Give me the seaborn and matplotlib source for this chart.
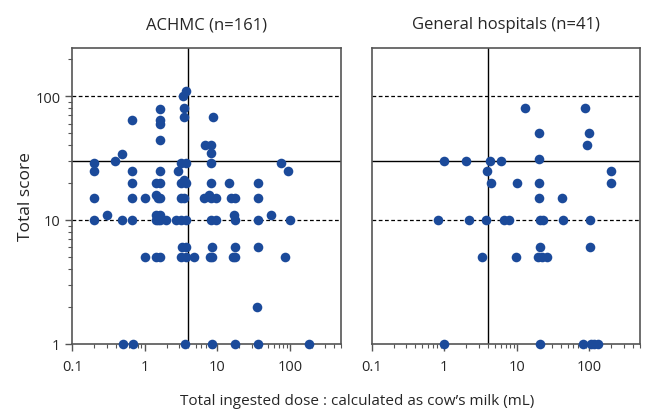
import matplotlib
matplotlib.use("Agg")
import matplotlib.pyplot as plt
import matplotlib.ticker as mticker
import seaborn as sns
import pandas as pd
import numpy as np

# ---- data ----
achmc_dose = [3.7, 3.4, 3.5, 1.6, 3.5, 8.6, 0.66, 1.6, 1.6, 1.6,
              6.8, 8.2, 8.2, 0.49, 0.39,
              0.2, 3.2, 3.65, 8.2, 75,
              0.2, 0.66, 1.64, 2.9, 93,
              0.66, 1.41, 1.64, 3.2, 3.5, 3.65, 8.2, 14.3, 36,
              0.2, 0.66, 1.0, 1.41, 1.5, 1.64, 3.2, 3.5, 6.6, 7.6, 8.2, 9.6, 15.4, 17.6, 36,
              0.3, 1.41, 1.64, 17.1, 55,
              0.2, 0.49, 0.66, 1.41, 1.5, 1.64, 1.98, 2.72, 3.2, 3.65, 8.2, 9.6, 17.6, 36, 100,
              3.3, 3.65, 8.4, 17.6, 36,
              1.0, 1.41, 1.64, 3.2, 3.65, 4.8, 8.0, 8.4, 16.3, 17.6, 85,
              35,
              0.5, 0.68, 3.6, 8.3, 17.3, 36, 184]
achmc_score = [110, 100, 80, 78, 68, 68, 64, 64, 59, 44,
               40, 40, 35, 34, 30,
               29, 29, 29, 29, 29,
               25, 25, 25, 25, 25,
               20, 20, 20, 20, 21, 20, 20, 20, 20,
               15, 15, 15, 16, 15, 15, 15, 15, 15, 16, 15, 15, 15, 15, 15,
               11, 11, 11, 11, 11,
               10, 10, 10, 10, 10, 10, 10, 10, 10, 10, 10, 10, 10, 10, 10,
               6, 6, 6, 6, 6,
               5, 5, 5, 5, 5, 5, 5, 5, 5, 5, 5,
               2,
               1, 1, 1, 1, 1, 1, 1]

general_dose = [13, 86, 20, 100, 91,
                1.0, 2.0, 4.3, 6.0, 20,
                3.9, 200,
                4.4, 10, 20, 200,
                20, 42,
                0.83, 2.2, 3.8, 6.6, 7.7, 21, 23, 43.6, 101,
                21, 103,
                3.3, 9.7, 19.8, 21.9, 25.7,
                1.0, 21, 81, 105, 117, 133]
general_score = [80, 80, 50, 50, 40,
                 30, 30, 30, 30, 31,
                 25, 25,
                 20, 20, 20, 20,
                 15, 15,
                 10, 10, 10, 10, 10, 10, 10, 10, 10,
                 6, 6,
                 5, 5, 5, 5, 5,
                 1, 1, 1, 1, 1, 1]

panel_titles = ["ACHMC (n=161)", "General hospitals (n=41)"]
x_ticks = [0.1, 1, 10, 100]
x_tick_labels = ["0.1", "1", "10", "100"]
y_ticks = [1, 10, 100]
y_tick_labels = ["1", "10", "100"]
dose_cut = 4
score_cut = 30
ref_lines = [10, 100]

# ---- styling ----
sns.set_style("white")
plt.rcParams["font.family"] = ["Open Sans", "DejaVu Sans"]
plt.rcParams["xtick.bottom"] = True
plt.rcParams["ytick.left"] = True

df = pd.concat([
    pd.DataFrame({"dose": achmc_dose, "score": achmc_score, "group": panel_titles[0]}),
    pd.DataFrame({"dose": general_dose, "score": general_score, "group": panel_titles[1]}),
])

fig, axes = plt.subplots(1, 2, figsize=(6.56, 4.14), dpi=100)
fig.subplots_adjust(left=0.11, right=0.976, bottom=0.167, top=0.882, wspace=0.115)

dot = "#1b4a9a"
frame = "#555555"
for i, (ax, title) in enumerate(zip(axes, panel_titles)):
    sub = df[df["group"] == title]
    sns.scatterplot(data=sub, x="dose", y="score", ax=ax, color=dot,
                    s=48, linewidth=0, zorder=3, legend=False, clip_on=False)
    ax.set_xscale("log")
    ax.set_yscale("log")
    ax.set_xlim(0.1, 500)
    ax.set_ylim(1, 245)
    for v in ref_lines:
        ax.axhline(v, color="black", lw=0.9, ls=(0, (3, 2)), zorder=1)
    ax.axhline(score_cut, color="black", lw=1.0, zorder=1)
    ax.axvline(dose_cut, color="black", lw=1.0, zorder=1)
    ax.set_title(title, fontsize=12, pad=14)
    ax.set_xlabel("")
    ax.set_ylabel("")
    ax.xaxis.set_major_locator(mticker.FixedLocator(x_ticks))
    ax.xaxis.set_major_formatter(mticker.FixedFormatter(x_tick_labels))
    ax.xaxis.set_minor_locator(mticker.LogLocator(base=10, subs=np.arange(2, 10)))
    ax.xaxis.set_minor_formatter(mticker.NullFormatter())
    ax.tick_params(axis="x", which="major", direction="out", length=5, width=1,
                   color=frame, labelsize=10.5, pad=6, bottom=True)
    ax.tick_params(axis="x", which="minor", direction="out", length=3, width=0.8,
                   color=frame, bottom=True)
    for sp in ax.spines.values():
        sp.set_color(frame)
        sp.set_linewidth(1.2)
    if i == 0:
        ax.yaxis.set_major_locator(mticker.FixedLocator(y_ticks))
        ax.yaxis.set_major_formatter(mticker.FixedFormatter(y_tick_labels))
        ax.yaxis.set_minor_locator(mticker.LogLocator(base=10, subs=np.arange(2, 10)))
        ax.yaxis.set_minor_formatter(mticker.NullFormatter())
        ax.tick_params(axis="y", which="major", direction="out", length=5, width=1,
                       color=frame, labelsize=10.5, left=True)
        ax.tick_params(axis="y", which="minor", direction="out", length=3, width=0.8,
                       color=frame, left=True)
        ax.set_ylabel("Total score", fontsize=12.5, labelpad=1)
    else:
        ax.set_yticks([])
        ax.yaxis.set_minor_locator(mticker.NullLocator())

fig.text(0.545, 0.012, "Total ingested dose : calculated as cow\u2019s milk (mL)",
         ha="center", va="bottom", fontsize=11)

fig.savefig("out.png", dpi=100)
